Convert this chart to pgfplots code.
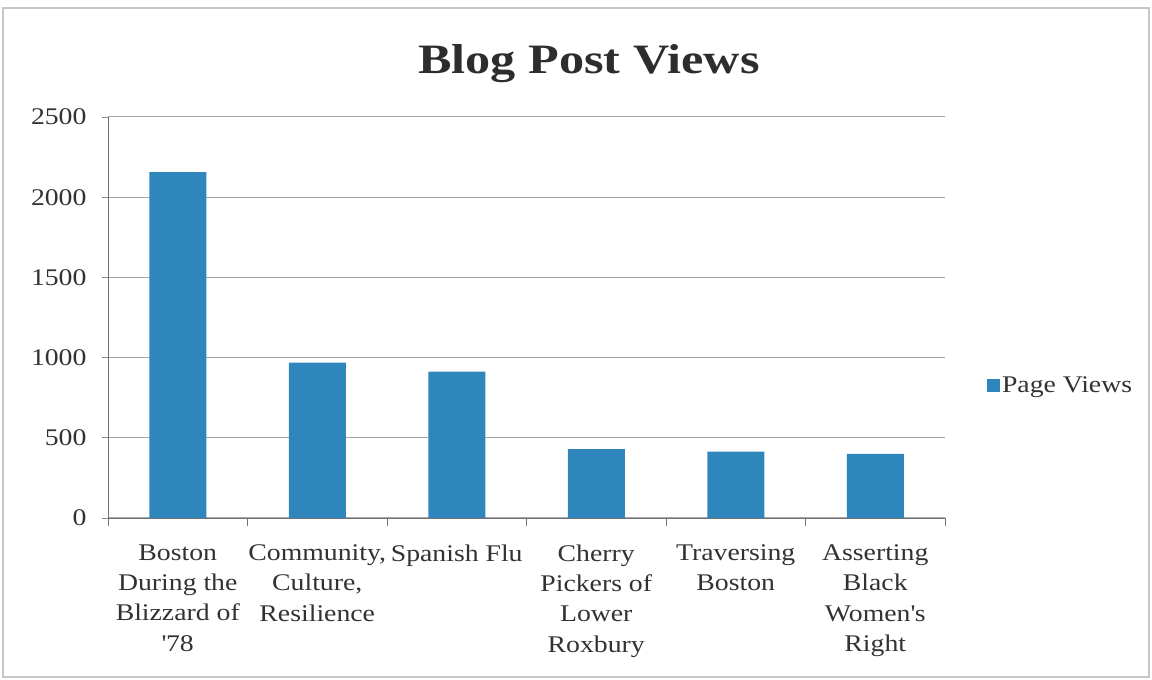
\documentclass[border=0pt]{standalone}
\usepackage{pgfplots}
\pgfplotsset{compat=1.18}
\usepackage{fontspec}
\setmainfont{Liberation Serif}[FakeStretch=1.16]
\newfontfamily\titlefont{Liberation Serif}[FakeStretch=1.2]
\definecolor{barblue}{RGB}{46,134,188}
\definecolor{txt}{RGB}{50,50,50}
\begin{document}
\begin{tikzpicture}[x=1bp,y=1bp]
\useasboundingbox (0,0) rectangle (1152,680);
\draw[black!22, line width=1.5bp] (3,3) rectangle (1149,672);
\node[font=\titlefont\fontsize{42}{48}\selectfont\bfseries, text=txt!90!black] at (589,616) {Blog Post Views};
\begin{axis}[
  at={(108bp,162bp)}, anchor=south west,
  width=837bp, height=401bp, scale only axis,
  ymin=0, ymax=2500, ytick={0,500,...,2500},
  xmin=-0.5, xmax=5.5,
  xtick={0,...,5},
  xticklabels={{Boston\\During the\\Blizzard of\\\textquotesingle78},{Community,\\Culture,\\Resilience},{Spanish Flu},{Cherry\\Pickers of\\Lower\\Roxbury},{Traversing\\Boston},{Asserting\\Black\\Women\textquotesingle s\\Right}},
  minor xtick={-0.5,0.5,...,5.5},
  major x tick style={draw=none},
  minor x tick style={black!55, line width=0.8bp},
  minor tick length=8bp,
  major tick length=6bp,
  tick align=outside,
  ytick style={black!45, line width=0.8bp},
  axis x line*=bottom, axis y line*=left,
  axis line style={black!55, line width=0.9bp, -},
  ymajorgrids, grid style={black!35, line width=1bp},
  /pgf/number format/assume math mode=true,
  /pgf/number format/1000 sep={},
  tick label style={font=\fontsize{24}{30.5}\selectfont, text=txt},
  xticklabel style={align=center, yshift=-17bp},
  yticklabel style={xshift=-12bp},
  legend style={at={(1.05,0.33)}, anchor=west, draw=none, fill=none,
    font=\fontsize{24}{28}\selectfont, text=txt, inner sep=0pt},
  legend image code/.code={\fill[#1] (-1bp,-6.5bp) rectangle (12bp,6.5bp);},
]
\addplot[ybar, bar width=57bp, fill=barblue, draw=none] coordinates {
  (0,2157) (1,968) (2,913) (3,430) (4,413) (5,400)};
\addlegendentry{Page Views}
\end{axis}
\end{tikzpicture}
\end{document}
